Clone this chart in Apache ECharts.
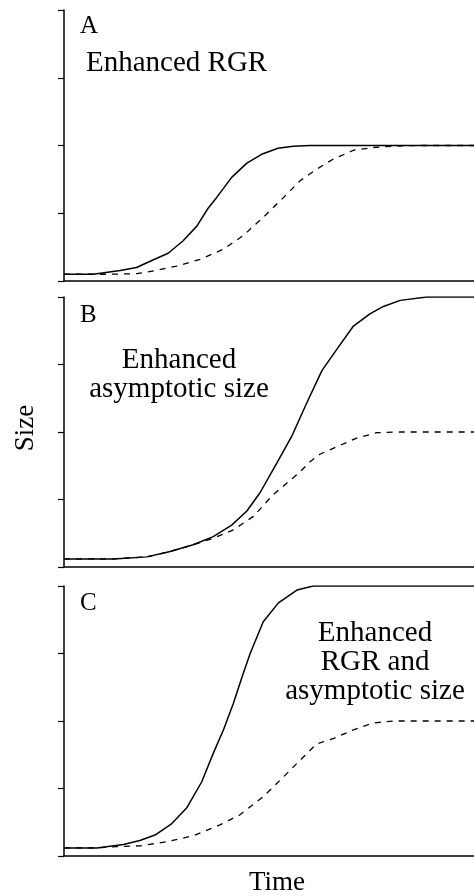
<!DOCTYPE html>
<html>
<head>
<meta charset="utf-8">
<script src="https://cdn.jsdelivr.net/npm/echarts@6/dist/echarts.min.js"></script>
<style>html,body{margin:0;padding:0;background:#fff;}#chart{width:474px;height:896px;}</style>
</head>
<body>
<div id="chart"></div>
<script>
// Size ticks (unlabelled) 0..4, time 0..100 (unlabelled)
const yTicks = [0, 1, 2, 3, 4];
const panelLetters = ['A', 'B', 'C'];
const panelTitles = [['Enhanced RGR'], ['Enhanced', 'asymptotic size'], ['Enhanced', 'RGR and', 'asymptotic size']];

// Panel A
const solidA = [[0,0.1],[7.1,0.1],[13.7,0.155],[17.7,0.2],[21.7,0.31],[25.4,0.41],[29,0.59],[32.4,0.81],[35.1,1.07],[37.2,1.23],[40.9,1.53],[44.6,1.74],[48.2,1.87],[52.2,1.96],[55.9,1.99],[60,2.0],[100,2.0]];
const dashA = [[0,0.1],[11.2,0.1],[17.7,0.108],[22.6,0.158],[27.5,0.22],[33.2,0.32],[38.9,0.47],[43.7,0.67],[48.6,0.94],[53.5,1.23],[57.6,1.48],[61.6,1.65],[65.7,1.80],[70.6,1.93],[75.4,1.97],[80.3,1.99],[86,2.0],[100,2.0]];
// Panel B
const solidB = [[0,0.12],[12,0.12],[20.2,0.15],[25.9,0.23],[31.5,0.33],[36.4,0.45],[40.9,0.62],[44.6,0.83],[47.8,1.10],[51.9,1.54],[55.5,1.93],[59.2,2.43],[62.9,2.91],[67.3,3.29],[70.6,3.57],[74.6,3.75],[77.9,3.86],[82,3.95],[88.5,4.0],[100,4.0]];
const dashB = [[0,0.12],[12,0.12],[20.2,0.15],[25.9,0.23],[31.5,0.33],[36.4,0.425],[41.3,0.55],[46.2,0.75],[51,1.07],[54.3,1.24],[57.6,1.41],[60,1.56],[62.4,1.67],[66.5,1.78],[71.4,1.91],[76.3,1.99],[82,2.0],[100,2.0]];
// Panel C
const solidC = [[0,0.12],[8,0.12],[14.5,0.17],[18.5,0.23],[22.2,0.31],[26.3,0.48],[29.9,0.71],[33.6,1.10],[36.4,1.52],[38.9,1.87],[41.3,2.26],[43.3,2.63],[45.4,3.0],[48.6,3.47],[52.3,3.75],[56.8,3.94],[60.8,4.0],[100,4.0]];
const dashC = [[0,0.12],[8,0.12],[12.9,0.14],[18.5,0.15],[25,0.21],[31.5,0.30],[38,0.46],[42.9,0.61],[48.6,0.88],[53.5,1.17],[57.6,1.42],[61.6,1.66],[65.7,1.74],[70.6,1.87],[75.4,1.97],[80.3,2.0],[100,2.0]];

const solids = [solidA, solidB, solidC];
const dashes = [dashA, dashB, dashC];

const gridTops = [10, 297, 586];
const gridHeights = [271, 270, 270];
const FONT = '"Liberation Serif", "DejaVu Serif", serif';

const chart = echarts.init(document.getElementById('chart'), null, {renderer: 'canvas'});

const grids = [], xAxes = [], yAxes = [], series = [];
for (let i = 0; i < 3; i++) {
  grids.push({left: 64, right: 0, top: gridTops[i], height: gridHeights[i], containLabel: false});
  xAxes.push({type: 'value', gridIndex: i, min: 0, max: 100,
    axisLine: {show: true, lineStyle: {color: '#000', width: 1.5}},
    axisTick: {show: false}, axisLabel: {show: false}, splitLine: {show: false}});
  yAxes.push({type: 'value', gridIndex: i, min: yTicks[0], max: yTicks[yTicks.length - 1], interval: 1,
    axisLine: {show: true, lineStyle: {color: '#000', width: 1.5}},
    axisTick: {show: true, length: 6, lineStyle: {color: '#000', width: 1.2}},
    axisLabel: {show: false}, splitLine: {show: false}});
  series.push({type: 'line', xAxisIndex: i, yAxisIndex: i, data: solids[i], showSymbol: false,
    smooth: false, lineStyle: {color: '#000', width: 1.5}, z: 3});
  series.push({type: 'line', xAxisIndex: i, yAxisIndex: i, data: dashes[i], showSymbol: false,
    smooth: false, lineStyle: {color: '#000', width: 1.3, type: [6, 6]}, z: 2});
}

const textStyle = (size) => ({fill: '#000', font: size + 'px ' + FONT});
const graphic = [
  // panel letters
  {type: 'text', left: 80, top: 14, style: Object.assign({text: panelLetters[0]}, textStyle(25))},
  {type: 'text', left: 80, top: 303, style: Object.assign({text: panelLetters[1]}, textStyle(25))},
  {type: 'text', left: 80, top: 591, style: Object.assign({text: panelLetters[2]}, textStyle(25))},
  // panel titles
  {type: 'text', left: 86, top: 49, style: Object.assign({text: panelTitles[0].join('\n')}, textStyle(29))},
  {type: 'text', x: 179, y: 346, style: Object.assign({text: panelTitles[1].join('\n'), align: 'center', lineHeight: 29}, textStyle(29))},
  {type: 'text', x: 375, y: 619, style: Object.assign({text: panelTitles[2].join('\n'), align: 'center', lineHeight: 29}, textStyle(29))},
  // axis names
  {type: 'text', x: 26, y: 428, rotation: Math.PI / 2, style: Object.assign({text: 'Size', align: 'center', verticalAlign: 'middle'}, textStyle(27))},
  {type: 'text', x: 277, y: 883, style: Object.assign({text: 'Time', align: 'center', verticalAlign: 'middle'}, textStyle(27))}
];

chart.setOption({
  animation: false,
  backgroundColor: '#fff',
  grid: grids, xAxis: xAxes, yAxis: yAxes, series: series, graphic: graphic
});
</script>
</body>
</html>
